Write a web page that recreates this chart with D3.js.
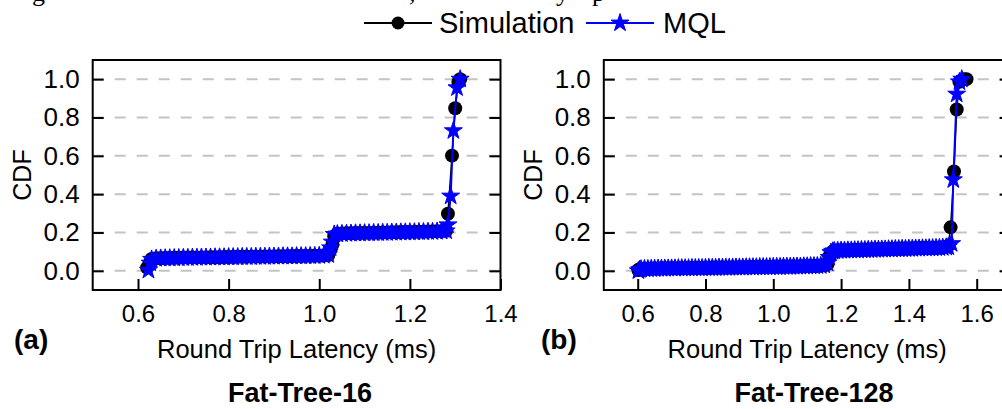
<!DOCTYPE html>
<html>
<head>
<meta charset="utf-8">
<script src="https://cdn.jsdelivr.net/npm/d3@7"></script>
<style>
body { margin: 0; background: #fff; }
svg { display: block; font-family: Arial, "Liberation Sans", sans-serif; }
</style>
</head>
<body>
<svg id="chart" width="1002" height="409"></svg>
<script>
// ---- data ----
const seriesNames = ["Simulation", "MQL"];
const yTicks = [0.0, 0.2, 0.4, 0.6, 0.8, 1.0];
const xTicksA = [0.6, 0.8, 1.0, 1.2, 1.4];
const xTicksB = [0.6, 0.8, 1.0, 1.2, 1.4, 1.6];

// Fat-Tree-16: latency grid (ms) and CDF of both series (null = no marker)
const latA = [0.620, 0.623, 0.627, 0.630,
  0.64, 0.65, 0.66, 0.67, 0.68, 0.69, 0.70, 0.71, 0.72, 0.73,
  0.74, 0.75, 0.76, 0.77, 0.78, 0.79, 0.80, 0.81, 0.82, 0.83,
  0.84, 0.85, 0.86, 0.87, 0.88, 0.89, 0.90, 0.91, 0.92, 0.93,
  0.94, 0.95, 0.96, 0.97, 0.98, 0.99, 1.00, 1.01, 1.02,
  1.025, 1.029, 1.033,
  1.04, 1.05, 1.06, 1.07, 1.08, 1.09, 1.10, 1.11, 1.12, 1.13,
  1.14, 1.15, 1.16, 1.17, 1.18, 1.19, 1.20, 1.21, 1.22, 1.23,
  1.24, 1.25, 1.26, 1.27, 1.28,
  1.284, 1.290, 1.293, 1.296, 1.300, 1.304, 1.307, 1.311];
const simA = [0.017, null, 0.045, 0.062,
  0.066, 0.066, 0.067, 0.067, 0.068, 0.068, 0.069, 0.069, 0.069, 0.070,
  0.070, 0.070, 0.071, 0.071, 0.071, 0.072, 0.072, 0.072, 0.073, 0.073,
  0.073, 0.074, 0.074, 0.074, 0.075, 0.075, 0.075, 0.076, 0.076, 0.076,
  0.077, 0.077, 0.077, 0.078, 0.078, 0.079, 0.079, 0.080, 0.082,
  0.110, 0.137, 0.180,
  0.194, 0.195, 0.196, 0.196, 0.197, 0.197, 0.198, 0.198, 0.199, 0.199,
  0.200, 0.200, 0.201, 0.201, 0.202, 0.202, 0.203, 0.203, 0.204, 0.204,
  0.205, 0.205, 0.206, 0.207, 0.209,
  0.298, null, 0.601, null, 0.848, null, 0.985, 1.000];
const mqlA = [null, 0.003, 0.040, 0.060,
  0.064, 0.065, 0.066, 0.066, 0.067, 0.067, 0.068, 0.068, 0.069, 0.069,
  0.070, 0.070, 0.070, 0.071, 0.071, 0.071, 0.072, 0.072, 0.072, 0.073,
  0.073, 0.073, 0.074, 0.074, 0.074, 0.075, 0.075, 0.075, 0.076, 0.076,
  0.076, 0.077, 0.077, 0.077, 0.078, 0.078, 0.079, 0.080, 0.084,
  0.120, 0.150, 0.190,
  0.192, 0.193, 0.194, 0.195, 0.196, 0.196, 0.197, 0.197, 0.198, 0.198,
  0.199, 0.199, 0.200, 0.200, 0.201, 0.201, 0.202, 0.202, 0.203, 0.203,
  0.204, 0.204, 0.205, 0.206, 0.208,
  0.240, 0.390, null, 0.731, null, 0.955, null, 1.000];

// Fat-Tree-128
const latB = [0.602, 0.606,
  0.61, 0.62, 0.63, 0.64, 0.65, 0.66, 0.67, 0.68, 0.69, 0.70,
  0.71, 0.72, 0.73, 0.74, 0.75, 0.76, 0.77, 0.78, 0.79, 0.80,
  0.81, 0.82, 0.83, 0.84, 0.85, 0.86, 0.87, 0.88, 0.89, 0.90,
  0.91, 0.92, 0.93, 0.94, 0.95, 0.96, 0.97, 0.98, 0.99, 1.00,
  1.01, 1.02, 1.03, 1.04, 1.05, 1.06, 1.07, 1.08, 1.09, 1.10,
  1.11, 1.12, 1.13, 1.14, 1.15, 1.16,
  1.165, 1.170, 1.175,
  1.18, 1.19,
  1.20, 1.21, 1.22, 1.23, 1.24, 1.25, 1.26, 1.27, 1.28, 1.29,
  1.30, 1.31, 1.32, 1.33, 1.34, 1.35, 1.36, 1.37, 1.38, 1.39,
  1.40, 1.41, 1.42, 1.43, 1.44, 1.45, 1.46, 1.47, 1.48, 1.49,
  1.50, 1.51,
  1.516, 1.523, 1.526, 1.531, 1.533, 1.541, 1.549, 1.556, 1.563, 1.570];
const simB = [0.004, 0.008,
  0.010, 0.011, 0.011, 0.012, 0.012, 0.012, 0.013, 0.013, 0.013, 0.014,
  0.014, 0.014, 0.014, 0.015, 0.015, 0.015, 0.015, 0.016, 0.016, 0.016,
  0.016, 0.017, 0.017, 0.017, 0.017, 0.018, 0.018, 0.018, 0.018, 0.019,
  0.019, 0.019, 0.019, 0.020, 0.020, 0.020, 0.020, 0.021, 0.021, 0.021,
  0.021, 0.022, 0.022, 0.022, 0.023, 0.023, 0.023, 0.024, 0.024, 0.025,
  0.025, 0.026, 0.026, 0.027, 0.029, 0.036,
  0.075, 0.090, 0.100,
  0.106, 0.107,
  0.107, 0.108, 0.108, 0.109, 0.109, 0.110, 0.110, 0.111, 0.111, 0.112,
  0.112, 0.113, 0.113, 0.114, 0.114, 0.115, 0.115, 0.116, 0.116, 0.117,
  0.117, 0.118, 0.118, 0.119, 0.119, 0.120, 0.120, 0.121, 0.121, 0.122,
  0.123, 0.125,
  0.130, 0.227, null, null, 0.518, 0.842, 0.986, 0.995, 1.000, 1.000];
const mqlB = [0.000, 0.006,
  0.009, 0.010, 0.010, 0.011, 0.011, 0.012, 0.012, 0.012, 0.013, 0.013,
  0.013, 0.014, 0.014, 0.014, 0.014, 0.015, 0.015, 0.015, 0.015, 0.016,
  0.016, 0.016, 0.016, 0.017, 0.017, 0.017, 0.017, 0.018, 0.018, 0.018,
  0.018, 0.019, 0.019, 0.019, 0.019, 0.020, 0.020, 0.020, 0.020, 0.021,
  0.021, 0.021, 0.022, 0.022, 0.022, 0.023, 0.023, 0.023, 0.024, 0.024,
  0.025, 0.025, 0.026, 0.027, 0.030, 0.040,
  0.070, 0.095, 0.102,
  0.104, 0.105,
  0.106, 0.106, 0.107, 0.107, 0.108, 0.108, 0.109, 0.109, 0.110, 0.110,
  0.111, 0.111, 0.112, 0.112, 0.113, 0.113, 0.114, 0.114, 0.115, 0.115,
  0.116, 0.116, 0.117, 0.117, 0.118, 0.118, 0.119, 0.119, 0.120, 0.120,
  0.121, 0.123,
  0.125, null, 0.142, 0.475, null, 0.922, 0.986, 1.000, null, null];

// clipped caption line of the page above the figure
const captionBits = ["g", ",", "y", "p"];

// ---- drawing ----
const colors = { sim: "#000000", mql: "#0000ff" };
const svg = d3.select("#chart");
svg.append("rect").attr("width", 1002).attr("height", 409).attr("fill", "#fff");

class CdfPanel {
    top = 60;
    bottom = 290;

    constructor(svg, left, right, xDomain) {
        this.svg = svg;
        this.left = left;
        this.right = right;
        this.xDomain = xDomain;
    }

    initialize() {
        this.g = this.svg.append("g");
        this.x = d3.scaleLinear().domain(this.xDomain).range([this.left, this.right]);
        this.y = d3.scaleLinear().domain([-0.1, 1.1]).range([this.bottom, this.top]);
    }

    update(lat, sim, mql, xTicks, labels) {
        const g = this.g, x = this.x, y = this.y;

        // dashed grid
        g.append("g").selectAll("line")
            .data(yTicks)
            .join("line")
            .attr("x1", this.left).attr("x2", this.right)
            .attr("y1", d => y(d)).attr("y2", d => y(d))
            .attr("stroke", "#c4c4c4")
            .attr("stroke-width", 2)
            .attr("stroke-dasharray", "11,11");

        // axes, ticks pointing inward
        g.append("g")
            .attr("transform", `translate(0,${this.bottom})`)
            .call(d3.axisBottom(x).tickValues(xTicks).tickFormat(d3.format(".1f"))
                .tickSize(-11).tickPadding(15))
            .call(a => a.select(".domain").remove())
            .call(a => a.selectAll("line").attr("stroke-width", 2))
            .call(a => a.selectAll("text").attr("font-size", 24).attr("fill", "#000"));
        g.append("g")
            .attr("transform", `translate(${this.left},0)`)
            .call(d3.axisLeft(y).tickValues(yTicks).tickFormat(d3.format(".1f"))
                .tickSize(-11).tickPadding(13))
            .call(a => a.select(".domain").remove())
            .call(a => a.selectAll("line").attr("stroke-width", 2))
            .call(a => a.selectAll("text").attr("font-size", 26).attr("fill", "#000"));
        g.append("g")
            .attr("transform", `translate(${this.right},0)`)
            .call(d3.axisRight(y).tickValues(yTicks).tickFormat("").tickSize(-11))
            .call(a => a.select(".domain").remove())
            .call(a => a.selectAll("line").attr("stroke-width", 2));
        g.selectAll("g").attr("font-family", null).attr("font-size", null);

        // frame
        g.append("rect")
            .attr("x", this.left).attr("y", this.top)
            .attr("width", this.right - this.left).attr("height", this.bottom - this.top)
            .attr("fill", "none").attr("stroke", "#000").attr("stroke-width", 2);

        const simPts = lat.map((v, i) => [v, sim[i]]).filter(d => d[1] != null);
        const mqlPts = lat.map((v, i) => [v, mql[i]]).filter(d => d[1] != null);
        const line = d3.line().x(d => x(d[0])).y(d => y(d[1]));

        g.append("path").datum(simPts)
            .attr("d", line).attr("fill", "none")
            .attr("stroke", colors.sim).attr("stroke-width", 1.5);
        g.append("g").selectAll("circle")
            .data(simPts)
            .join("circle")
            .attr("cx", d => x(d[0])).attr("cy", d => y(d[1]))
            .attr("r", 7).attr("fill", colors.sim);

        g.append("path").datum(mqlPts)
            .attr("d", line).attr("fill", "none")
            .attr("stroke", colors.mql).attr("stroke-width", 2);
        const star = d3.symbol(d3.symbolStar, 100);
        g.append("g").selectAll("path")
            .data(mqlPts)
            .join("path")
            .attr("d", star)
            .attr("transform", d => `translate(${x(d[0])},${y(d[1])})`)
            .attr("fill", colors.mql)
            .attr("stroke", colors.mql).attr("stroke-width", 1).attr("stroke-linejoin", "round");

        // labels
        const mid = (this.left + this.right) / 2;
        g.append("text")
            .attr("x", mid).attr("y", 358)
            .attr("text-anchor", "middle").attr("font-size", 25.5)
            .text("Round Trip Latency (ms)");
        g.append("text")
            .attr("transform", `translate(${this.left - 62},${(this.top + this.bottom) / 2}) rotate(-90)`)
            .attr("text-anchor", "middle").attr("font-size", 25)
            .text("CDF");
        g.append("text")
            .attr("x", labels.tagX).attr("y", 349)
            .attr("font-size", 28).attr("font-weight", "bold")
            .text(labels.tag);
        g.append("text")
            .attr("x", labels.titleX).attr("y", 402)
            .attr("text-anchor", "middle")
            .attr("font-size", 27).attr("font-weight", "bold")
            .text(labels.title);
    }
}

const panelA = new CdfPanel(svg, 92.7, 500.5, [0.5, 1.4]);
panelA.initialize();
panelA.update(latA, simA, mqlA, xTicksA, { tag: "(a)", tagX: 14, title: "Fat-Tree-16", titleX: 300 });

const panelB = new CdfPanel(svg, 603.8, 1010.6, [0.5, 1.7]);
panelB.initialize();
panelB.update(latB, simB, mqlB, xTicksB, { tag: "(b)", tagX: 541, title: "Fat-Tree-128", titleX: 814 });

// legend
const legend = svg.append("g").attr("font-size", 29);
legend.append("line").attr("x1", 364).attr("x2", 432).attr("y1", 23).attr("y2", 23)
    .attr("stroke", colors.sim).attr("stroke-width", 2);
legend.append("circle").attr("cx", 398).attr("cy", 23).attr("r", 6.5).attr("fill", colors.sim);
legend.append("text").attr("x", 439).attr("y", 33).text(seriesNames[0]);
legend.append("line").attr("x1", 586).attr("x2", 654).attr("y1", 23).attr("y2", 23)
    .attr("stroke", colors.mql).attr("stroke-width", 2);
legend.append("path").attr("d", d3.symbol(d3.symbolStar, 100))
    .attr("transform", "translate(620,23)").attr("fill", colors.mql)
    .attr("stroke", colors.mql).attr("stroke-width", 1).attr("stroke-linejoin", "round");
legend.append("text").attr("x", 663).attr("y", 33).text(seriesNames[1]);

// descenders of the text line above (cut off by the page crop)
svg.append("g")
    .attr("font-family", "'Liberation Serif', 'Times New Roman', serif")
    .attr("font-size", 26)
    .selectAll("text")
    .data(captionBits)
    .join("text")
    .attr("x", (d, i) => [32, 409, 556, 592][i])
    .attr("y", 1)
    .text(d => d);
</script>
</body>
</html>
